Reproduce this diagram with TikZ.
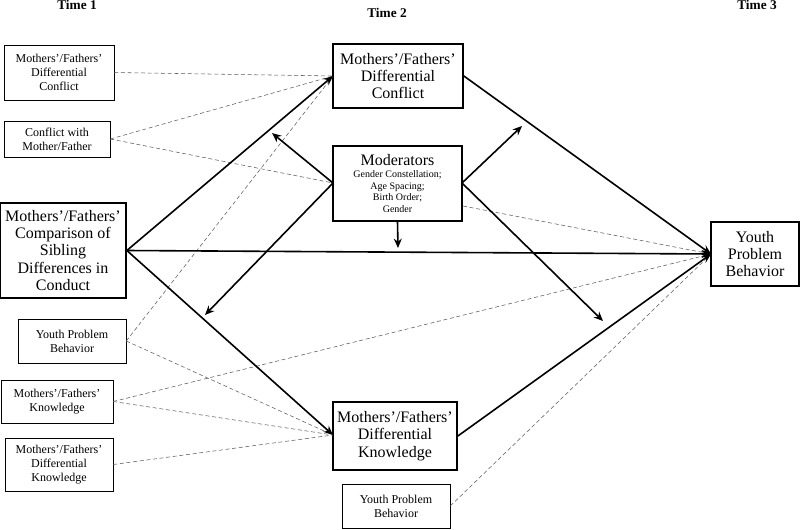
\documentclass[tikz,border=0pt]{standalone}
\usepackage{fontspec}
\setmainfont{Liberation Serif}
\usetikzlibrary{arrows.meta}
\begin{document}
\begin{tikzpicture}[x=0.75pt,y=-0.75pt,
  w/.style={minimum width=#1*0.75pt},
  h/.style={minimum height=#1*0.75pt},
  sbox/.style={draw, thin, align=center, inner sep=0pt, font=\fontsize{9}{10.5}\selectfont},
  bbox/.style={draw, line width=1.3pt, align=center, inner sep=0pt, font=\fontsize{12}{13}\selectfont},
  lbl/.style={font=\bfseries\fontsize{10}{12}\selectfont},
  sol/.style={line width=1.2pt},
  arr/.style={sol,-{Stealth[length=7pt,width=6pt]}},
  dsh/.style={densely dashed, gray!70!black, line width=0.4pt}]
\useasboundingbox (0,0) rectangle (800,529);
\node[lbl] (t1) at (77,5) {Time 1};
\node[lbl] (t2) at (387,13) {Time 2};
\node[lbl] (t3) at (757,5) {Time 3};
% Time 1
\node[sbox, w=110, h=55] (a1) at (59,72.5) {Mothers'/Fathers'\\Differential\\Conflict};
\node[sbox, w=106, h=36] (a2) at (57,139) {Conflict with\\Mother/Father};
\node[bbox, w=126, h=95] (m) at (63,250.5) {Mothers'/Fathers'\\Comparison of\\Sibling\\Differences in\\Conduct};
\node[sbox, w=108, h=44] (a3) at (72,341) {Youth Problem\\Behavior};
\node[sbox, w=112, h=43] (a4) at (57,401.5) {Mothers'/Fathers'\\Knowledge};
\node[sbox, w=108, h=53] (a5) at (59,464.5) {Mothers'/Fathers'\\Differential\\Knowledge};
% Time 2
\node[bbox, w=130, h=64] (b1) at (398,76) {Mothers'/Fathers'\\Differential\\Conflict};
\node[draw, line width=1.1pt, align=center, inner sep=0pt, w=129, h=75, font=\fontsize{7.5}{8.8}\selectfont] (mod) at (397.5,183.5)
  {\fontsize{12}{13}\selectfont Moderators\\\fontsize{7.5}{8.8}\selectfont Gender Constellation;\\Age Spacing;\\Birth Order;\\Gender};
\node[bbox, w=124, h=68] (b3) at (395,436) {Mothers'/Fathers'\\Differential\\Knowledge};
\node[sbox, w=108, h=44] (b4) at (396,506) {Youth Problem\\Behavior};
% Time 3
\node[bbox, w=88, h=64] (y) at (755,254) {Youth\\Problem\\Behavior};
\coordinate (b1w) at (333,76);
\coordinate (b3w) at (333,435);
\coordinate (yw) at (711,254);
\coordinate (ml) at (333,183);
\coordinate (mr) at (462,183);
\coordinate (e1) at (272,133);
\coordinate (e2) at (205,315);
\coordinate (e3) at (522,126);
\coordinate (e4) at (603,321);
\coordinate (e5) at (398,248);
% dashed
\draw[dsh] (a1.east) -- (b1w);
\draw[dsh] (a2.east) -- (b1w);
\draw[dsh] (a2.east) -- (ml);
\draw[dsh] (a3.east) -- (b1w);
\draw[dsh] (a3.east) -- (b3w);
\draw[dsh] (a4.east) -- (yw);
\draw[dsh] (a4.east) -- (b3w);
\draw[dsh] (a5.east) -- (b3w);
\draw[dsh] (b4.east) -- (yw);
\draw[dsh] (463,206) -- (yw);
% solid
\draw[arr] (m.east) -- (b1w);
\draw[arr] (m.east) -- (b3w);
\draw[arr] (m.east) -- (yw);
\draw[arr] (b1.east) -- (yw);
\draw[arr] (b3.east) -- (yw);
\draw[arr] (ml) -- (e1);
\draw[arr] (ml) -- (e2);
\draw[arr] (mr) -- (e3);
\draw[arr] (mr) -- (e4);
\draw[arr] (mod.south) -- (e5);
\end{tikzpicture}
\end{document}
